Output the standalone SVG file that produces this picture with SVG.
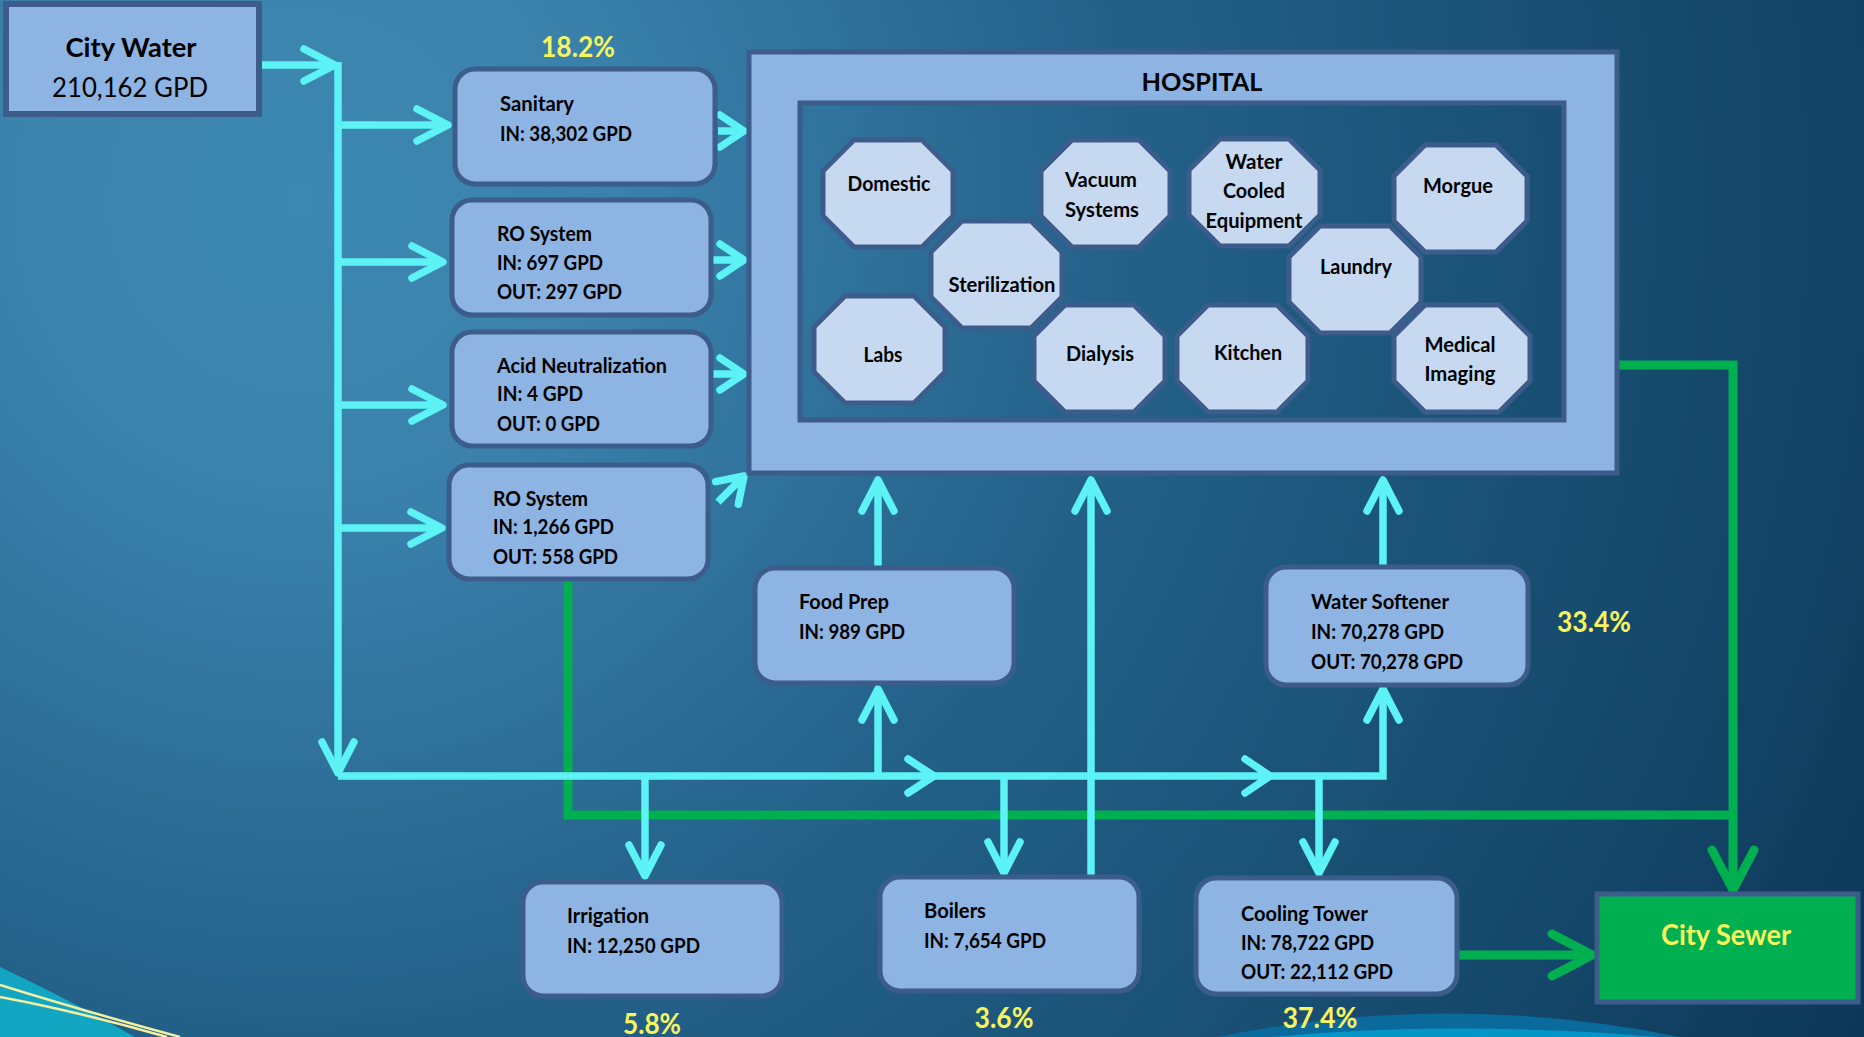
<svg xmlns="http://www.w3.org/2000/svg" width="1864" height="1037" viewBox="0 0 1864 1037">
<defs>
<radialGradient id="bg" gradientUnits="userSpaceOnUse" cx="300" cy="200" r="1900">
<stop offset="0" stop-color="#3C88B2"/>
<stop offset="0.16" stop-color="#3A82AC"/>
<stop offset="0.42" stop-color="#24628A"/>
<stop offset="0.79" stop-color="#134567"/>
<stop offset="1" stop-color="#0A3050"/>
</radialGradient>
<marker id="ah" markerUnits="userSpaceOnUse" viewBox="-40 -24 46 48" refX="0" refY="0" markerWidth="46" markerHeight="48" orient="auto">
<path d="M -31 -16 L 0 0 L -31 16" fill="none" stroke="#5CF2F6" stroke-width="7.5" stroke-linecap="round" stroke-linejoin="round"/>
</marker>
<marker id="ahs" markerUnits="userSpaceOnUse" viewBox="-34 -24 40 48" refX="0" refY="0" markerWidth="40" markerHeight="48" orient="auto">
<path d="M -24 -16 L 0 0 L -24 16" fill="none" stroke="#5CF2F6" stroke-width="7.5" stroke-linecap="round" stroke-linejoin="round"/>
</marker>
<marker id="ahg" markerUnits="userSpaceOnUse" viewBox="-50 -28 56 56" refX="0" refY="0" markerWidth="56" markerHeight="56" orient="auto">
<path d="M -40 -21 L 0 0 L -40 21" fill="none" stroke="#00B050" stroke-width="9" stroke-linecap="round" stroke-linejoin="round"/>
</marker>
</defs>
<style>
.box{fill:#8EB4E3;stroke:#3C5C8C;stroke-width:5}
.oct{fill:#C6D9F1;stroke:#3C5C8C;stroke-width:5}
.t{font-family:Lato,"Liberation Sans",sans-serif;font-weight:bold;font-size:20px;fill:#000}
.c{text-anchor:middle}
.big{font-size:27px}
.reg{font-weight:normal}
.hosp{font-size:25px}
.pct{font-family:Lato,"Liberation Sans",sans-serif;font-weight:bold;font-size:28px;fill:#F7F55E;text-anchor:middle}
.cy{fill:none;stroke:#5CF2F6;stroke-width:7.5;stroke-linejoin:miter}
.cyh{fill:none;stroke:#5CF2F6;stroke-width:7.5;stroke-linecap:round;stroke-linejoin:round}
.gr{fill:none;stroke:#00B050;stroke-width:9}
</style>
<rect x="0" y="0" width="1864" height="1037" fill="url(#bg)"/>
<g id="decor">
<path d="M 0 967 Q 70 1000 135 1037 L 0 1037 Z" fill="#12A6C2"/>
<path d="M 0 985 Q 80 1010 180 1037" fill="none" stroke="#F5EFA0" stroke-width="2.5"/>
<path d="M 0 997 Q 80 1012 167 1037" fill="none" stroke="#F5EFA0" stroke-width="2.5"/>
<path d="M 1217 1037 Q 1450 990 1680 1037 Z" fill="#0B6A9C"/>
<path d="M 1270 1037 Q 1450 1020 1660 1037 Z" fill="#0596C8"/>
</g>

<g id="connectors">
<path class="gr" d="M 568 579 L 568 815 L 1737 815"/>
<path class="gr" d="M 1617 365 L 1733 365 L 1733 890" marker-end="url(#ahg)"/>
<path class="gr" d="M 1457 955 L 1592 955" marker-end="url(#ahg)"/>

<path class="cy" d="M 259 65 L 335 65" marker-end="url(#ah)"/>
<path class="cy" d="M 338 62 L 338 773" marker-end="url(#ah)"/>
<path class="cy" d="M 338 776 L 1383 776 L 1383 689" marker-end="url(#ah)"/>
<path class="cy" d="M 338 125 L 448 125" marker-end="url(#ah)"/>
<path class="cy" d="M 338 262 L 443 262" marker-end="url(#ah)"/>
<path class="cy" d="M 338 405 L 443 405" marker-end="url(#ah)"/>
<path class="cy" d="M 338 528 L 442 528" marker-end="url(#ah)"/>
<path class="cyh" d="M 908 759 L 934 776 L 908 793"/>
<path class="cyh" d="M 1245 759 L 1270 776 L 1245 793"/>
<path class="cy" d="M 878 776 L 878 689" marker-end="url(#ah)"/>
<path class="cy" d="M 878 566 L 878 480" marker-end="url(#ah)"/>
<path class="cy" d="M 1091 877 L 1091 480" marker-end="url(#ah)"/>
<path class="cy" d="M 1383 566 L 1383 480" marker-end="url(#ah)"/>
<path class="cy" d="M 645 776 L 645 876" marker-end="url(#ah)"/>
<path class="cy" d="M 1004 776 L 1004 873" marker-end="url(#ah)"/>
<path class="cy" d="M 1319 776 L 1319 873" marker-end="url(#ah)"/>
<path class="cy" d="M 718 131 L 744 131" marker-end="url(#ahs)"/>
<path class="cy" d="M 713 260 L 744 260" marker-end="url(#ahs)"/>
<path class="cy" d="M 713 374 L 744 374" marker-end="url(#ahs)"/>
<path class="cy" d="M 718 502 L 744 476" marker-end="url(#ahs)"/>
</g>

<g id="city-water">
<rect x="6" y="4" width="253" height="110" fill="#8EB4E3" stroke="#3C5C8C" stroke-width="6"/>
<text class="t c big" x="131" y="57" textLength="131" lengthAdjust="spacingAndGlyphs">City Water</text>
<text class="t c big reg" x="130" y="97" textLength="156" lengthAdjust="spacingAndGlyphs">210,162 GPD</text>
</g>

<g id="sanitary">
<rect class="box" x="455" y="69" width="260" height="115" rx="20"/>
<text class="t" x="500" y="111" textLength="74" lengthAdjust="spacingAndGlyphs">Sanitary</text>
<text class="t" x="500" y="141" textLength="132" lengthAdjust="spacingAndGlyphs">IN: 38,302 GPD</text>
</g>
<text class="pct" x="578" y="57" textLength="74" lengthAdjust="spacingAndGlyphs">18.2%</text>

<g id="ro-system-1">
<rect class="box" x="452" y="200" width="259" height="115" rx="20"/>
<text class="t" x="497" y="241" textLength="95" lengthAdjust="spacingAndGlyphs">RO System</text>
<text class="t" x="497" y="270" textLength="106" lengthAdjust="spacingAndGlyphs">IN: 697 GPD</text>
<text class="t" x="497" y="299" textLength="125" lengthAdjust="spacingAndGlyphs">OUT: 297 GPD</text>
</g>

<g id="acid-neutralization">
<rect class="box" x="452" y="332" width="259" height="114" rx="20"/>
<text class="t" x="497" y="373" textLength="170" lengthAdjust="spacingAndGlyphs">Acid Neutralization</text>
<text class="t" x="497" y="401" textLength="86" lengthAdjust="spacingAndGlyphs">IN: 4 GPD</text>
<text class="t" x="497" y="431" textLength="103" lengthAdjust="spacingAndGlyphs">OUT: 0 GPD</text>
</g>

<g id="ro-system-2">
<rect class="box" x="449" y="465" width="259" height="114" rx="20"/>
<text class="t" x="493" y="506" textLength="95" lengthAdjust="spacingAndGlyphs">RO System</text>
<text class="t" x="493" y="534" textLength="121" lengthAdjust="spacingAndGlyphs">IN: 1,266 GPD</text>
<text class="t" x="493" y="564" textLength="125" lengthAdjust="spacingAndGlyphs">OUT: 558 GPD</text>
</g>

<g id="hospital">
<rect x="749" y="52" width="868" height="421" fill="#8EB4E3" stroke="#3C5C8C" stroke-width="5"/>
<rect x="800" y="103" width="764" height="317" fill="url(#bg)" stroke="#3C5C8C" stroke-width="5"/>
<text class="t c hosp" x="1202" y="91" textLength="121" lengthAdjust="spacingAndGlyphs">HOSPITAL</text>
</g>

<g id="domestic">
<polygon class="oct" points="854,140 922,140 953,171 953,216 922,247 854,247 823,216 823,171"/>
<text class="t c" x="889" y="191" textLength="83" lengthAdjust="spacingAndGlyphs">Domestic</text>
</g>
<g id="vacuum-systems">
<polygon class="oct" points="1072,140 1139,140 1170,171 1170,216 1139,247 1072,247 1041,216 1041,171"/>
<text class="t c" x="1101" y="187" textLength="72" lengthAdjust="spacingAndGlyphs">Vacuum</text>
<text class="t c" x="1102" y="217" textLength="74" lengthAdjust="spacingAndGlyphs">Systems</text>
</g>
<g id="water-cooled-equipment">
<polygon class="oct" points="1220,139 1289,139 1320,170 1320,215 1289,246 1220,246 1189,215 1189,170"/>
<text class="t c" x="1254" y="169" textLength="57" lengthAdjust="spacingAndGlyphs">Water</text>
<text class="t c" x="1254" y="198" textLength="62" lengthAdjust="spacingAndGlyphs">Cooled</text>
<text class="t c" x="1254" y="228" textLength="97" lengthAdjust="spacingAndGlyphs">Equipment</text>
</g>
<g id="morgue">
<polygon class="oct" points="1425,145 1496,145 1527,176 1527,221 1496,252 1425,252 1394,221 1394,176"/>
<text class="t c" x="1458" y="193" textLength="70" lengthAdjust="spacingAndGlyphs">Morgue</text>
</g>
<g id="sterilization">
<polygon class="oct" points="962,221 1031,221 1062,252 1062,297 1031,328 962,328 931,297 931,252"/>
<text class="t c" x="1002" y="292" textLength="107" lengthAdjust="spacingAndGlyphs">Sterilization</text>
</g>
<g id="laundry">
<polygon class="oct" points="1320,226 1390,226 1421,257 1421,302 1390,333 1320,333 1289,302 1289,257"/>
<text class="t c" x="1356" y="274" textLength="72" lengthAdjust="spacingAndGlyphs">Laundry</text>
</g>
<g id="labs">
<polygon class="oct" points="845,296 914,296 945,327 945,372 914,403 845,403 814,372 814,327"/>
<text class="t c" x="883" y="362" textLength="39" lengthAdjust="spacingAndGlyphs">Labs</text>
</g>
<g id="dialysis">
<polygon class="oct" points="1065,305 1134,305 1165,336 1165,381 1134,412 1065,412 1034,381 1034,336"/>
<text class="t c" x="1100" y="361" textLength="68" lengthAdjust="spacingAndGlyphs">Dialysis</text>
</g>
<g id="kitchen">
<polygon class="oct" points="1208,305 1277,305 1308,336 1308,381 1277,412 1208,412 1177,381 1177,336"/>
<text class="t c" x="1248" y="360" textLength="68" lengthAdjust="spacingAndGlyphs">Kitchen</text>
</g>
<g id="medical-imaging">
<polygon class="oct" points="1425,305 1499,305 1530,336 1530,381 1499,412 1425,412 1394,381 1394,336"/>
<text class="t c" x="1460" y="352" textLength="71" lengthAdjust="spacingAndGlyphs">Medical</text>
<text class="t c" x="1460" y="381" textLength="71" lengthAdjust="spacingAndGlyphs">Imaging</text>
</g>

<g id="food-prep">
<rect class="box" x="755" y="568" width="259" height="115" rx="20"/>
<text class="t" x="799" y="609" textLength="90" lengthAdjust="spacingAndGlyphs">Food Prep</text>
<text class="t" x="799" y="639" textLength="106" lengthAdjust="spacingAndGlyphs">IN: 989 GPD</text>
</g>

<g id="water-softener">
<rect class="box" x="1266" y="567" width="262" height="118" rx="20"/>
<text class="t" x="1311" y="609" textLength="138" lengthAdjust="spacingAndGlyphs">Water Softener</text>
<text class="t" x="1311" y="639" textLength="133" lengthAdjust="spacingAndGlyphs">IN: 70,278 GPD</text>
<text class="t" x="1311" y="669" textLength="152" lengthAdjust="spacingAndGlyphs">OUT: 70,278 GPD</text>
</g>
<text class="pct" x="1594" y="632" textLength="74" lengthAdjust="spacingAndGlyphs">33.4%</text>

<g id="irrigation">
<rect class="box" x="523" y="882" width="259" height="114" rx="20"/>
<text class="t" x="567" y="923" textLength="82" lengthAdjust="spacingAndGlyphs">Irrigation</text>
<text class="t" x="567" y="953" textLength="133" lengthAdjust="spacingAndGlyphs">IN: 12,250 GPD</text>
</g>
<text class="pct" x="652" y="1034" textLength="58" lengthAdjust="spacingAndGlyphs">5.8%</text>

<g id="boilers">
<rect class="box" x="880" y="877" width="259" height="114" rx="20"/>
<text class="t" x="924" y="918" textLength="62" lengthAdjust="spacingAndGlyphs">Boilers</text>
<text class="t" x="924" y="948" textLength="122" lengthAdjust="spacingAndGlyphs">IN: 7,654 GPD</text>
</g>
<text class="pct" x="1004" y="1028" textLength="59" lengthAdjust="spacingAndGlyphs">3.6%</text>

<g id="cooling-tower">
<rect class="box" x="1196" y="878" width="261" height="116" rx="20"/>
<text class="t" x="1241" y="921" textLength="127" lengthAdjust="spacingAndGlyphs">Cooling Tower</text>
<text class="t" x="1241" y="950" textLength="133" lengthAdjust="spacingAndGlyphs">IN: 78,722 GPD</text>
<text class="t" x="1241" y="979" textLength="152" lengthAdjust="spacingAndGlyphs">OUT: 22,112 GPD</text>
</g>
<text class="pct" x="1320" y="1028" textLength="75" lengthAdjust="spacingAndGlyphs">37.4%</text>

<g id="city-sewer">
<rect x="1597" y="894" width="261" height="108" fill="#00B050" stroke="#3C5C8C" stroke-width="5"/>
<text class="pct" x="1726" y="945" textLength="130" lengthAdjust="spacingAndGlyphs">City Sewer</text>
</g>
</svg>
